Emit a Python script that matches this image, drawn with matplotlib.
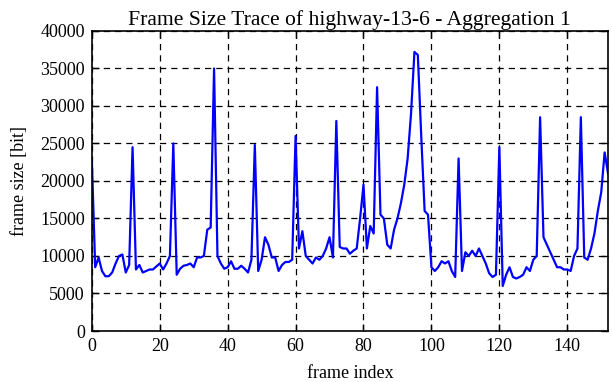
import numpy as np
import matplotlib.pyplot as plt

# frame sizes, one per frame index
frame_size = [
    23000, 8500, 9800, 8000, 7300, 7300, 7800, 9000, 10000, 10200,
    7800, 8800, 24500, 8200, 8800, 7800, 8000, 8200, 8200, 8600,
    9000, 8200, 9000, 10000, 25000, 7500, 8300, 8700, 8800, 9000,
    8500, 9800, 9800, 10000, 13500, 13800, 35000, 10000, 9000, 8300,
    8500, 9300, 8300, 8300, 8700, 8300, 7800, 9500, 24800, 8000,
    9500, 12500, 11500, 9800, 9800, 8000, 8800, 9200, 9200, 9500,
    26000, 11000, 13300, 10000, 9500, 9000, 9800, 9500, 10000, 11000,
    12500, 9800, 28000, 11200, 11000, 11000, 10300, 10700, 11000, 15000,
    19500, 11000, 14000, 13000, 32500, 15500, 15000, 11500, 11000, 13500,
    15000, 17000, 19500, 23000, 29000, 37200, 36800, 26000, 16000, 15500,
    8500, 8000, 8500, 9300, 9000, 9300, 8000, 7200, 23000, 8000,
    10500, 10000, 10700, 10000, 11000, 10000, 9000, 7700, 7200, 7500,
    24500, 6000, 7500, 8500, 7200, 7000, 7200, 7500, 8500, 8000,
    9500, 10000, 28500, 12500, 11500, 10500, 9500, 8500, 8500, 8200,
    8200, 8000, 10000, 11000, 28500, 9800, 9500, 11000, 13000, 16000,
    18500, 23800, 21000,
]
frame_index = np.arange(len(frame_size))

x_ticks = [0, 20, 40, 60, 80, 100, 120, 140]
y_ticks = [0, 5000, 10000, 15000, 20000, 25000, 30000, 35000, 40000]

plt.rcParams['font.family'] = ['Liberation Serif', 'DejaVu Serif']
plt.rcParams['font.size'] = 13

fig = plt.figure(figsize=(6.12, 3.82), dpi=100)
ax = fig.add_axes([0.150, 0.1335, 0.8435, 0.7855])

ax.plot(frame_index, frame_size, color=(0, 0, 1), linewidth=1.6)

ax.set_xlim(0, 152)
ax.set_ylim(0, 40000)
ax.set_xticks(x_ticks)
ax.set_yticks(y_ticks)
ax.grid(True, color='black', linestyle=(0, (5, 4)), linewidth=0.9)
ax.tick_params(direction='in', top=True, right=True, length=5, width=1, pad=5)
for s in ax.spines.values():
    s.set_linewidth(1.2)

ax.set_title("Frame Size Trace of highway-13-6 - Aggregation 1", pad=4)
ax.set_xlabel("frame index", labelpad=7)
ax.set_ylabel("frame size [bit]", labelpad=9)

fig.savefig("out.png", dpi=100)
